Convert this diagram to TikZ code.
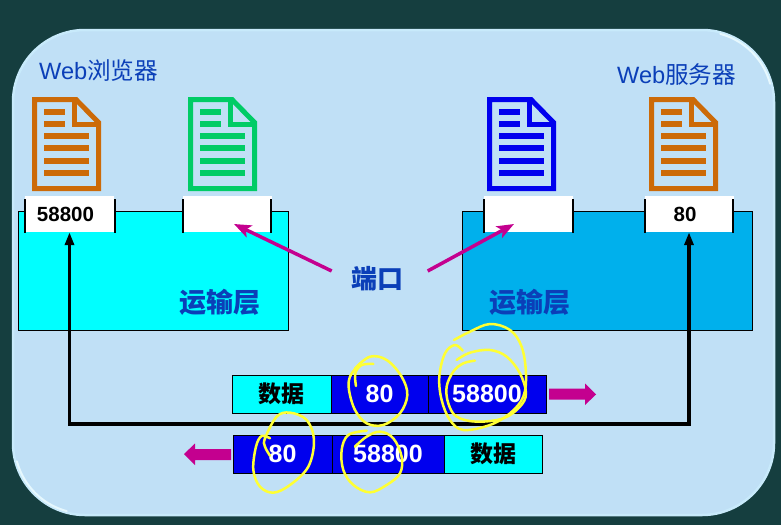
\documentclass[tikz,border=0pt]{standalone}
\usepackage{fontspec}
\setmainfont{Liberation Sans}
\newfontfamily\cjk{Noto Sans CJK SC}
\usetikzlibrary{arrows.meta,calc}
\definecolor{bgdark}{HTML}{153E3F}
\definecolor{panelfill}{HTML}{C0E0F6}
\definecolor{paneledge}{HTML}{C8EAFB}
\definecolor{panelglow}{HTML}{E6F8FE}
\definecolor{titleblue}{HTML}{0B3FB8}
\definecolor{magentaarrow}{HTML}{C4008F}
\definecolor{docorange}{HTML}{CC6A08}
\definecolor{docgreen}{HTML}{00CC66}
\definecolor{docblue}{HTML}{0000EE}
\definecolor{pktblue}{HTML}{0000EE}
\definecolor{purecyan}{HTML}{00FFFF}
\definecolor{layerblue}{HTML}{00B0EC}
\definecolor{scribble}{HTML}{FFFF33}
\tikzset{
  x=1pt,y=-1pt,
  layerbox/.style={draw=black,line width=1.1pt,anchor=north west,inner sep=0pt},
  portbox/.style={fill=white,inner sep=0pt,minimum width=89pt,minimum height=36pt,font=\fontsize{20.5}{20.5}\selectfont\bfseries},
  porttick/.style={draw=black,line width=2pt},
  titletext/.style={text=titleblue,font=\fontsize{23.6}{23.6}\selectfont,inner sep=0pt},
  labeltext/.style={text=titleblue,font=\fontsize{26}{26}\selectfont\cjk\bfseries,inner sep=0pt},
  layertext/.style={text=titleblue,font=\fontsize{27}{27}\selectfont\cjk\bfseries,inner sep=0pt},
  cellbox/.style={draw=black,line width=1pt,inner sep=0pt,minimum height=38pt},
  datacell/.style={cellbox,fill=purecyan,text=black,font=\fontsize{23}{23}\selectfont\cjk\bfseries},
  numcell/.style={cellbox,fill=pktblue,text=white,font=\fontsize{25}{25}\selectfont\bfseries},
  busline/.style={draw=black,line width=3.3pt,{Triangle[length=13pt,width=9pt]}-{Triangle[length=13pt,width=9pt]}},
  portarrow/.style={draw=magentaarrow,line width=3.5pt,-{Stealth[length=17pt,width=13pt,inset=4pt]}},
  moveshape/.style={fill=magentaarrow},
  scribbleline/.style={draw=scribble,line width=2.5pt,line cap=round},
  pics/docicon/.style={code={
    \draw[#1,line width=5pt,miter limit=4] (2.5,2.5) -- (44,2.5) -- (66.5,25.5) -- (66.5,91.5) -- (2.5,91.5) -- cycle;
    \draw[#1,line width=5pt] (42.5,2.5) -- (42.5,27.5) -- (66.5,27.5);
    \foreach \yy in {15,27} \draw[#1,line width=5.5pt] (12,\yy) -- (33,\yy);
    \foreach \yy in {39,51,64,76} \draw[#1,line width=5.5pt] (12,\yy) -- (57,\yy);
  }}
}
\begin{document}
\begin{tikzpicture}
\useasboundingbox (0,0) rectangle (781,525);
\fill[bgdark] (0,0) rectangle (781,525);
% panel
\draw[paneledge,fill=panelfill,line width=2.5pt,rounded corners=72pt] (13,30) rectangle (774,515);
% corner highlights
\draw[panelglow,line width=2pt,line cap=round] plot[domain=15:75,samples=25,smooth] ({85-70.5*cos(\x)},{443+70.5*sin(\x)});
\draw[panelglow,line width=2pt,line cap=round] plot[domain=15:75,samples=25,smooth] ({702+70.5*cos(\x)},{102-70.5*sin(\x)});
% layers
\node[layerbox,fill=purecyan,minimum width=270.5pt,minimum height=119pt] (lleft) at (17.5,211) {};
\node[layerbox,fill=layerblue,minimum width=290pt,minimum height=119pt] (lright) at (462,211) {};
\node[layertext] (ltext) at (220,302) {运输层};
\node[layertext] (rtext) at (530,302) {运输层};
% titles
\node[titletext,anchor=west] (tbrowser) at (39,71) {Web{\cjk 浏览器}};
\node[titletext,anchor=west] (tserver) at (617,75) {Web{\cjk 服务器}};
% documents
\pic at (32,97) {docicon=docorange};
\pic at (188,97) {docicon=docgreen};
\pic at (487,97) {docicon=docblue};
\pic at (649,97) {docicon=docorange};
% ports
\node[portbox] (p1) at (69.5,214) {58800\hspace*{8pt}};
\node[portbox] (p2) at (227,214) {};
\node[portbox] (p3) at (528.5,214) {};
\node[portbox] (p4) at (689,214) {80\hspace*{8pt}};
\foreach \xa/\xb in {25/114.7,183/271,483.5/573,644.5/733}{
  \draw[porttick] (\xa,199) -- (\xa,233);
  \draw[porttick] (\xb,199) -- (\xb,233);
}
% packets
\node[datacell,minimum width=99pt] (a1) at (281.5,394) {数据};
\node[numcell,minimum width=97pt] (a2) at (379.5,394) {80};
\node[numcell,minimum width=118pt] (a3) at (487,394) {58800};
\node[numcell,minimum width=99pt] (b1) at (282.5,454) {80};
\node[numcell,minimum width=112pt] (b2) at (388,454) {58800};
\node[datacell,minimum width=98pt] (b3) at (493,454) {数据};
% bus
\coordinate (bus) at (0,424);
\draw[busline] (p1.south) -- (p1.south |- bus) -- (p4.south |- bus) -- (p4.south);
% port label and arrows
\node[labeltext] (portlabel) at (377,278.5) {端口};
\coordinate (sl) at (331.7,271);
\coordinate (el) at (234,224);
\coordinate (sr) at (427.7,271);
\coordinate (er) at (514,224);
\draw[portarrow] (sl) -- (el);
\draw[portarrow] (sr) -- (er);
% move arrows
\fill[moveshape] (549,388.5) -- (585,388.5) -- (585,383.5) -- (596,394.5) -- (585,405) -- (585,399.5) -- (549,399.5) -- cycle;
\fill[moveshape] (231,449) -- (195,449) -- (195,443.5) -- (184,454) -- (195,465) -- (195,460) -- (231,460) -- cycle;
% scribbles (zoom coordinates mapped to image pixels)
\begin{scope}[shift={(170,310)},x=0.3333pt,y=-0.3333pt]
\draw[scribbleline] plot[smooth,tension=0.6] coordinates {(610,162) (575,165) (556,190) (558,228)};
\draw[scribbleline] plot[smooth,tension=0.6] coordinates {(555,175) (600,140) (650,150) (695,200) (712,255) (690,310) (640,345) (590,340) (555,300) (537,240) (540,200) (565,165)};
\draw[scribbleline] plot[smooth,tension=0.6] coordinates {(852,90) (900,65) (960,42) (1020,60) (1055,110) (1068,190) (1060,260) (1020,310) (960,345) (880,360) (840,330) (815,270) (808,200) (825,130) (855,105) (878,122)};
\draw[scribbleline] plot[smooth,tension=0.6] coordinates {(860,150) (900,128) (960,120) (1010,140) (1050,190) (1068,250) (1050,290) (1000,325) (920,335) (860,320) (835,280) (830,230) (850,185) (880,160) (915,152)};
\draw[scribbleline] plot[smooth,tension=0.6] coordinates {(300,437) (285,410) (285,385) (320,320) (360,308) (410,330) (432,390) (415,470) (360,525) (310,548) (270,530) (250,480) (258,410) (275,378) (300,385)};
\draw[scribbleline] plot[smooth,tension=0.6] coordinates {(555,410) (590,380) (630,365) (670,385) (695,440) (690,490) (650,525) (600,547) (550,525) (520,480) (515,420) (535,375) (590,362)};
\end{scope}
\end{tikzpicture}
\end{document}
